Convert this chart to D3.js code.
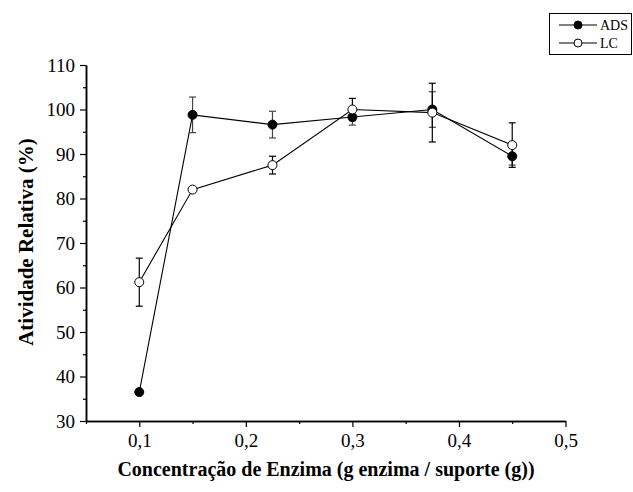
<!DOCTYPE html>
<html>
<head>
<meta charset="utf-8">
<script src="https://cdn.jsdelivr.net/npm/d3@7"></script>
<style>
  body { margin: 0; background: #fff; }
  svg { font-family: "Liberation Serif", "Times New Roman", serif; }
</style>
</head>
<body>
<div id="chart"></div>
<script>
var width = 633;
var height = 492;

// data
var conc = [0.1, 0.15, 0.225, 0.3, 0.375, 0.45];
var adsValues = [36.5, 98.8, 96.6, 98.3, 100.0, 89.5];
var adsErrors = [0, 4.0, 3.0, 1.8, 4.0, 2.0];
var lcValues = [61.2, 82.0, 87.5, 100.0, 99.3, 92.0];
var lcErrors = [5.4, 0, 2.0, 2.5, 6.6, 5.0];
var xTicks = [0.1, 0.2, 0.3, 0.4, 0.5];
var yTicks = [30, 40, 50, 60, 70, 80, 90, 100, 110];

var plotLeft = 86, plotRight = 566, plotTop = 65, plotBottom = 421;

var svg = d3.select("#chart").append("svg")
  .attr("width", width)
  .attr("height", height);

var xScale = d3.scaleLinear().domain([0.05, 0.5]).range([plotLeft, plotRight - 0.5]);
var yScale = d3.scaleLinear().domain([30, 110]).range([plotBottom, plotTop]);

var fmt = function(d) { return d3.format(".1f")(d).replace(".", ","); };

// x axis: major ticks + minor ticks halfway
var xAxis = d3.axisBottom(xScale).tickValues(xTicks).tickSize(6).tickSizeOuter(0).tickFormat(fmt);
var xMinor = d3.axisBottom(xScale).tickValues([0.05, 0.15, 0.25, 0.35, 0.45]).tickSize(3).tickSizeOuter(0).tickFormat("");
var yAxis = d3.axisLeft(yScale).tickValues(yTicks).tickSize(6).tickSizeOuter(0);
var yMinor = d3.axisLeft(yScale).tickValues([35, 45, 55, 65, 75, 85, 95, 105]).tickSize(3).tickSizeOuter(0).tickFormat("");

svg.append("g").attr("transform", "translate(0," + plotBottom + ")").call(xMinor);
svg.append("g").attr("class", "xAxis").attr("transform", "translate(0," + plotBottom + ")").call(xAxis);
svg.append("g").attr("transform", "translate(" + plotLeft + ",0)").call(yMinor);
svg.append("g").attr("class", "yAxis").attr("transform", "translate(" + plotLeft + ",0)").call(yAxis);

svg.selectAll(".domain").attr("stroke", "#000").attr("stroke-width", 1.5);
svg.selectAll(".tick line").attr("stroke", "#000").attr("stroke-width", 1.2);
svg.selectAll(".xAxis text")
  .attr("font-family", "Liberation Serif, serif")
  .attr("font-size", 19)
  .attr("y", 9)
  .attr("dy", "0.9em");
svg.selectAll(".yAxis text")
  .attr("font-family", "Liberation Serif, serif")
  .attr("font-size", 19)
  .attr("x", -11);

// axis titles
svg.append("text")
  .attr("x", 326)
  .attr("y", 476)
  .attr("text-anchor", "middle")
  .attr("font-weight", "bold")
  .attr("font-size", 20)
  .text("Concentração de Enzima (g enzima / suporte (g))");

svg.append("text")
  .attr("transform", "translate(33," + 242 + ")rotate(-90)")
  .attr("text-anchor", "middle")
  .attr("font-weight", "bold")
  .attr("font-size", 21)
  .text("Atividade Relativa (%)");

function drawSeries(values, errors, fill, errColor) {
  var rows = conc.map(function(c, i) { return { x: c, y: values[i], e: errors[i] }; });
  var line = d3.line().x(function(d) { return xScale(d.x); }).y(function(d) { return yScale(d.y); });

  var g = svg.append("g");
  g.append("path")
    .datum(rows)
    .attr("d", line)
    .attr("fill", "none")
    .attr("stroke", "#000")
    .attr("stroke-width", 1.1);

  var eb = g.selectAll("g.err").data(rows.filter(function(d) { return d.e > 0; })).enter().append("g");
  eb.append("line")
    .attr("x1", function(d) { return xScale(d.x); })
    .attr("x2", function(d) { return xScale(d.x); })
    .attr("y1", function(d) { return yScale(d.y + d.e); })
    .attr("y2", function(d) { return yScale(d.y - d.e); })
    .attr("stroke", errColor).attr("stroke-width", 1.2);
  [1, -1].forEach(function(s) {
    eb.append("line")
      .attr("x1", function(d) { return xScale(d.x) - 3.5; })
      .attr("x2", function(d) { return xScale(d.x) + 3.5; })
      .attr("y1", function(d) { return yScale(d.y + s * d.e); })
      .attr("y2", function(d) { return yScale(d.y + s * d.e); })
      .attr("stroke", errColor).attr("stroke-width", 1.2);
  });

  g.selectAll("circle").data(rows).enter().append("circle")
    .attr("cx", function(d) { return xScale(d.x); })
    .attr("cy", function(d) { return yScale(d.y); })
    .attr("r", 4.5)
    .attr("fill", fill)
    .attr("stroke", "#000")
    .attr("stroke-width", 1);
}

drawSeries(adsValues, adsErrors, "#000", "#444");
drawSeries(lcValues, lcErrors, "#fff", "#000");

// legend
var legend = svg.append("g");
legend.append("rect")
  .attr("x", 549.5).attr("y", 13.5)
  .attr("width", 82).attr("height", 41)
  .attr("fill", "#fff").attr("stroke", "#000").attr("stroke-width", 1);

var legendItems = [
  { name: "ADS", fill: "#000", y: 25 },
  { name: "LC", fill: "#fff", y: 43 }
];
legendItems.forEach(function(it) {
  legend.append("line")
    .attr("x1", 559).attr("x2", 597)
    .attr("y1", it.y).attr("y2", it.y)
    .attr("stroke", "#000").attr("stroke-width", 1.1);
  legend.append("circle")
    .attr("cx", 578).attr("cy", it.y).attr("r", 4)
    .attr("fill", it.fill).attr("stroke", "#000");
  legend.append("text")
    .attr("x", 600).attr("y", it.y + 5)
    .attr("font-size", 14)
    .text(it.name);
});
</script>
</body>
</html>
